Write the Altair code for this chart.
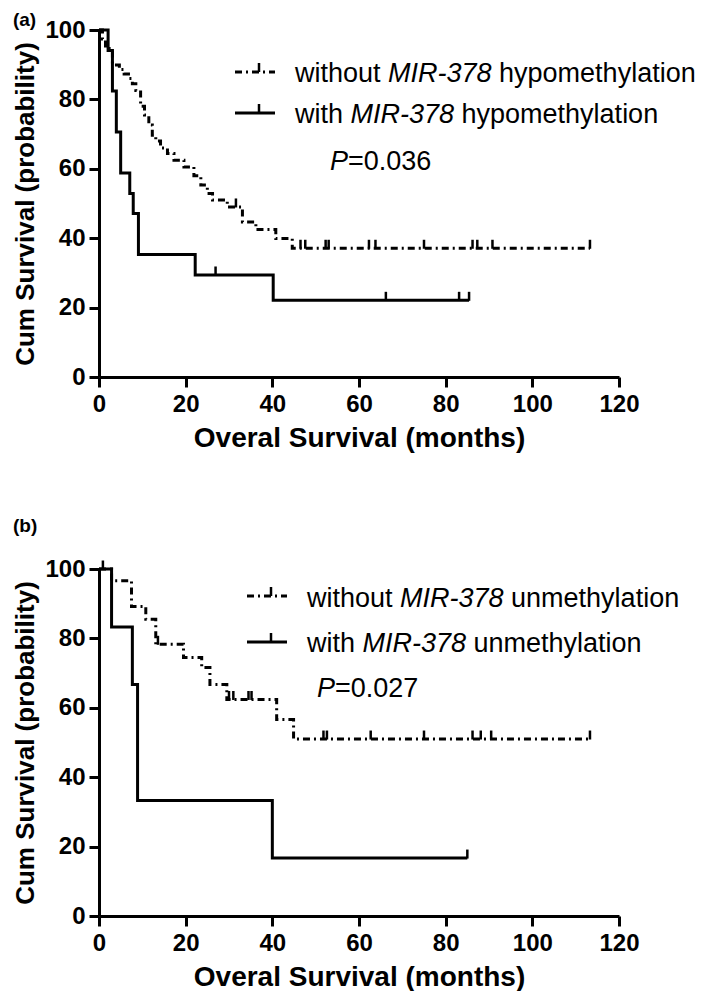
import altair as alt
import pandas as pd

FONT = "Liberation Sans"

# ---------- Panel (a) ----------
a_wo_t = [0, 0.8, 1.5, 3.1, 4.7, 5.8, 6.8, 7.7, 8.5, 9.6, 10.5, 11.5, 12.3, 13.1, 14.2, 15.8,
          17.3, 19.6, 21.9, 23.5, 25.0, 26.2, 29.6, 33.1, 36.2, 40.8, 44.6, 113.3]
a_wo_s = [100, 97.4, 94.7, 89.9, 88.6, 87.3, 86.0, 84.5, 82.6, 78.0, 75.5, 72.6, 69.7, 68.0, 66.0, 64.4,
          62.5, 60.5, 58.0, 55.3, 52.9, 51.0, 49.0, 44.7, 42.5, 39.9, 37.1, 37.1]
a_wo_ct = [31.6, 46.5, 47.6, 52.3, 53.0, 62.3, 63.8, 75.0, 86.2, 87.3, 90.8, 113.3]
a_wo_cs = [49.0, 37.1, 37.1, 37.1, 37.1, 37.1, 37.1, 37.1, 37.1, 37.1, 37.1, 37.1]

a_w_t = [0, 2.1, 3.1, 4.0, 5.0, 7.1, 7.9, 9.1, 22.2, 40.2, 85.4]
a_w_s = [100, 94.1, 82.4, 70.6, 58.8, 52.9, 47.1, 35.3, 29.4, 22.1, 22.1]
a_w_ct = [26.9, 66.2, 83.1, 85.4]
a_w_cs = [29.4, 22.1, 22.1, 22.1]

# ---------- Panel (b) ----------
b_wo_t = [0, 2.9, 7.5, 10.8, 13.1, 19.5, 23.7, 25.6, 29.5, 41.0, 44.9, 113.3]
b_wo_s = [100, 96.6, 89.2, 85.5, 78.3, 74.5, 71.6, 66.7, 62.4, 56.6, 51.0, 51.0]
b_wo_ct = [0.9, 13.6, 30.0, 31.0, 34.5, 35.2, 51.8, 52.6, 62.7, 75.0, 86.2, 88.1, 90.5, 113.3]
b_wo_cs = [100, 78.3, 62.4, 62.4, 62.4, 62.4, 51.0, 51.0, 51.0, 51.0, 51.0, 51.0, 51.0, 51.0]

b_w_t = [0, 2.9, 7.7, 8.9, 40.0, 85.0]
b_w_s = [100, 83.3, 66.7, 33.3, 16.7, 16.7]
b_w_ct = [85.0]
b_w_cs = [16.7]

x_ticks = [0, 20, 40, 60, 80, 100, 120]
y_ticks = [0, 20, 40, 60, 80, 100]

DASH = [7, 4, 2, 4]
W, H = 520, 347
FS = 27  # legend font size
# Arial/Liberation Sans advance widths (per 1000 em)
CW = {"w": 722, "i": 222, "t": 278, "h": 556, "o": 556, "u": 556, " ": 278}


def tw(s):
    return sum(CW[c] for c in s) * FS / 1000.0


X = alt.X("t:Q", scale=alt.Scale(domain=[0, 120], nice=False, zero=False),
          axis=alt.Axis(values=x_ticks, title="Overal Survival (months)", labelFlush=False,
                        labelPadding=5, titlePadding=8))
Y = alt.Y("s:Q", scale=alt.Scale(domain=[0, 100], nice=False),
          axis=alt.Axis(values=y_ticks, title="Cum Survival (probability)", labelPadding=4,
                        titlePadding=6, titleFontSize=26))


def txt(s, x0, y0, italic=False):
    kw = dict(align="left", baseline="alphabetic", font=FONT, fontSize=FS, color="black")
    if italic:
        kw["fontStyle"] = "italic"
    return alt.Chart(pd.DataFrame({"txt": [s]})).mark_text(**kw).encode(
        text="txt:N", x=alt.value(x0), y=alt.value(y0))


def legend_layers(sx, sy1, sy2, tx, ty1, ty2, word):
    one = pd.DataFrame({"k": [0]})
    layers = []
    layers.append(alt.Chart(one).mark_rule(strokeWidth=3, strokeDash=DASH, color="black").encode(
        x=alt.value(sx), x2=alt.value(sx + 40), y=alt.value(sy1)))
    layers.append(alt.Chart(one).mark_rule(strokeWidth=3, color="black").encode(
        x=alt.value(sx), x2=alt.value(sx + 40), y=alt.value(sy2)))
    for yy in (sy1, sy2):
        layers.append(alt.Chart(one).mark_rule(strokeWidth=2.5, color="black").encode(
            x=alt.value(sx + 24), y=alt.value(yy - 9), y2=alt.value(yy)))
    for first, y0 in (("without", ty1), ("with", ty2)):
        w1 = tw(first + " ")
        layers.append(txt(first, tx, y0))
        layers.append(txt("MIR-378", tx + w1, y0, italic=True))
        layers.append(txt(word, tx + w1 + 3834 * FS / 1000.0 + 278 * FS / 1000.0, y0))
    return layers


def p_layers(px, py, pval):
    return [txt("P", px, py, italic=True), txt("=" + pval, px + 667 * FS / 1000.0, py)]


def panel(wo_t, wo_s, wo_ct, wo_cs, w_t, w_s, w_ct, w_cs, title, toff, leg, word, pval, pxy):
    d_wo = pd.DataFrame({"t": wo_t, "s": wo_s})
    d_w = pd.DataFrame({"t": w_t, "s": w_s})
    c_wo = pd.DataFrame({"t": wo_ct, "s": wo_cs})
    c_w = pd.DataFrame({"t": w_ct, "s": w_cs})
    l1 = alt.Chart(d_wo).mark_line(interpolate="step-after", strokeWidth=3, strokeDash=DASH,
                                   color="black").encode(x=X, y=Y)
    l2 = alt.Chart(d_w).mark_line(interpolate="step-after", strokeWidth=3, color="black").encode(x=X, y=Y)
    t1 = alt.Chart(c_wo).mark_tick(orient="vertical", size=9, thickness=2.5, yOffset=-4, opacity=1,
                                   color="black").encode(x=X, y=Y)
    t2 = alt.Chart(c_w).mark_tick(orient="vertical", size=9, thickness=2.5, yOffset=-4, opacity=1,
                                  color="black").encode(x=X, y=Y)
    layers = [l1, l2, t1, t2] + legend_layers(*leg, word=word) + p_layers(pxy[0], pxy[1], pval)
    return alt.layer(*layers).properties(
        width=W, height=H,
        title=alt.TitleParams(title, anchor="start", frame="bounds", fontSize=19, fontWeight="bold",
                              font=FONT, color="black", offset=toff))


pa = panel(a_wo_t, a_wo_s, a_wo_ct, a_wo_cs, a_w_t, a_w_s, a_w_ct, a_w_cs, "(a)", -12,
           (136, 42, 83, 196, 52, 93), "hypomethylation", "0.036", (231, 140))
pb = panel(b_wo_t, b_wo_s, b_wo_ct, b_wo_cs, b_w_t, b_w_s, b_w_ct, b_w_cs, "(b)", 21,
           (148, 27, 73, 208, 38, 83), "unmethylation", "0.027", (218, 128))

chart = alt.vconcat(pa, pb, spacing=65).properties(
    padding={"left": 4, "top": 3, "right": 0, "bottom": 0}
).configure_view(strokeWidth=0).configure_axis(
    domainColor="black", domainWidth=3, tickColor="black", tickWidth=3, tickSize=10,
    labelFont=FONT, labelFontWeight="bold", labelFontSize=24, labelColor="black",
    titleFont=FONT, titleFontSize=28, titleFontWeight="bold", titleColor="black",
    grid=False, labelOverlap=False
)

chart.save("out.html", embed_options={"renderer": "svg", "actions": False})
